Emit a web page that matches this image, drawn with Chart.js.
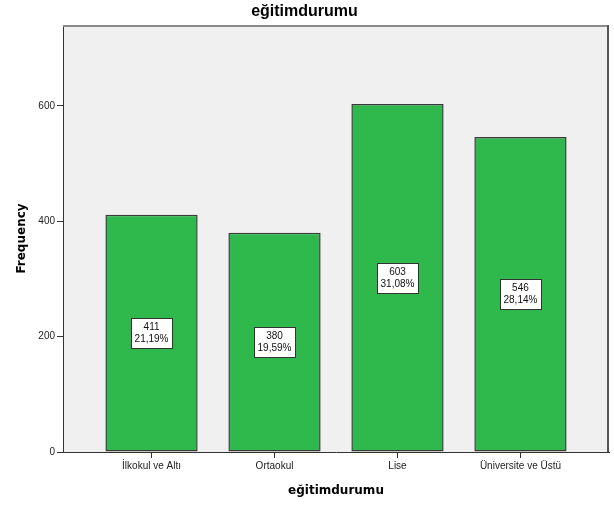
<!DOCTYPE html>
<html>
<head>
<meta charset="utf-8">
<script src="https://cdn.jsdelivr.net/npm/chart.js@4"></script>
<style>
  html, body { margin: 0; padding: 0; background: #fff; }
  #wrap { width: 614px; height: 507px; }
</style>
</head>
<body>
<div id="wrap"><canvas id="eduChart"></canvas></div>
<script>
const categories = ['İlkokul ve Altı', 'Ortaokul', 'Lise', 'Üniversite ve Üstü'];
const counts = [411, 380, 603, 546];
const yTicks = [0, 200, 400, 600];

const total = counts.reduce((a, b) => a + b, 0);
const percents = counts.map(c => (c / total * 100).toFixed(2).replace('.', ',') + '%');

// grey plot background + frame like SPSS output
const plotFrame = {
  id: 'plotFrame',
  beforeDraw(chart) {
    const { ctx, chartArea: a } = chart;
    ctx.save();
    ctx.fillStyle = '#f0f0f0';
    ctx.fillRect(a.left, a.top, a.right - a.left, a.bottom - a.top);
    ctx.restore();
  },
  afterDraw(chart) {
    const { ctx, chartArea: a } = chart;
    ctx.save();
    ctx.lineWidth = 2;
    ctx.strokeStyle = '#8a8a8a';
    ctx.beginPath();
    ctx.moveTo(a.left, a.top + 1);
    ctx.lineTo(a.right, a.top + 1);
    ctx.stroke();
    ctx.strokeStyle = '#555';
    ctx.beginPath();
    ctx.moveTo(a.right - 1, a.top);
    ctx.lineTo(a.right - 1, a.bottom);
    ctx.stroke();
    ctx.restore();
  }
};

// count / percent boxes in the middle of each bar
const barLabels = {
  id: 'barLabels',
  afterDatasetsDraw(chart) {
    const { ctx } = chart;
    const meta = chart.getDatasetMeta(0);
    ctx.save();
    ctx.font = '10px "Liberation Sans", Arial, sans-serif';
    ctx.textAlign = 'center';
    ctx.textBaseline = 'middle';
    meta.data.forEach((bar, i) => {
      const lines = [String(counts[i]), percents[i]];
      const w = Math.max(...lines.map(l => ctx.measureText(l).width)) + 7;
      const lh = 12;
      const h = lh * lines.length + 6;
      const cx = bar.x;
      const cy = (bar.y + bar.base) / 2;
      const x0 = Math.round(cx - w / 2) + 0.5;
      const y0 = Math.round(cy - h / 2) + 0.5;
      ctx.fillStyle = '#fff';
      ctx.fillRect(x0, y0, Math.round(w), h);
      ctx.strokeStyle = '#333';
      ctx.lineWidth = 1;
      ctx.strokeRect(x0, y0, Math.round(w), h);
      ctx.fillStyle = '#111';
      lines.forEach((l, j) => {
        ctx.fillText(l, cx, y0 + 3 + lh * j + lh / 2);
      });
    });
    ctx.restore();
  }
};

function renderChart() {
  const ctx = document.getElementById('eduChart').getContext('2d');
  new Chart(ctx, {
    type: 'bar',
    data: {
      datasets: [{
        label: 'Frequency',
        data: counts.map((c, i) => ({ x: i, y: c })),
        backgroundColor: '#2fb84c',
        borderColor: '#3a3a3a',
        borderWidth: 1.5,
        borderSkipped: false,
        categoryPercentage: 1,
        barPercentage: 0.75
      }]
    },
    options: {
      responsive: true,
      maintainAspectRatio: false,
      animation: false,
      layout: { padding: { left: 0, right: 5, top: 0, bottom: 0 } },
      plugins: {
        legend: { display: false },
        tooltip: { enabled: false },
        title: {
          display: true,
          text: 'eğitimdurumu',
          color: '#000',
          font: { family: '"Liberation Sans", Arial, sans-serif', size: 16, weight: 'bold' },
          padding: { top: 2, bottom: 3.8 }
        }
      },
      scales: {
        x: {
          type: 'linear',
          offset: false,
          min: -0.72,
          max: 3.72,
          afterBuildTicks(scale) {
            scale.ticks = categories.map((c, i) => ({ value: i }));
          },
          afterFit(scale) { scale.height = 55; },
          ticks: {
            autoSkip: false,
            maxRotation: 0,
            padding: 2,
            color: '#222',
            font: { family: '"Liberation Sans", Arial, sans-serif', size: 10 },
            callback: v => categories[v]
          },
          grid: { offset: false, drawOnChartArea: false, drawTicks: true, tickLength: 6, color: '#333' },
          border: { display: true, color: '#333', width: 1 },
          title: {
            display: true,
            text: 'eğitimdurumu',
            color: '#000',
            font: { family: '"DejaVu Sans", sans-serif', size: 12, weight: 'bold' },
            padding: { top: 0, bottom: 8.8 }
          }
        },
        y: {
          min: 0,
          max: 740,
          afterBuildTicks(scale) {
            scale.ticks = yTicks.map(v => ({ value: v }));
          },
          afterFit(scale) { scale.width = 63; },
          ticks: {
            padding: 2,
            color: '#222',
            font: { family: '"Liberation Sans", Arial, sans-serif', size: 10 }
          },
          grid: { drawOnChartArea: false, drawTicks: true, tickLength: 6, color: '#333' },
          border: { display: true, color: '#333', width: 1 },
          title: {
            display: true,
            text: 'Frequency',
            color: '#000',
            font: { family: '"DejaVu Sans", sans-serif', size: 12, weight: 'bold' },
            padding: { top: 14.8, bottom: 0 }
          }
        }
      }
    },
    plugins: [plotFrame, barLabels]
  });
}

document.addEventListener('DOMContentLoaded', renderChart);
</script>
</body>
</html>
